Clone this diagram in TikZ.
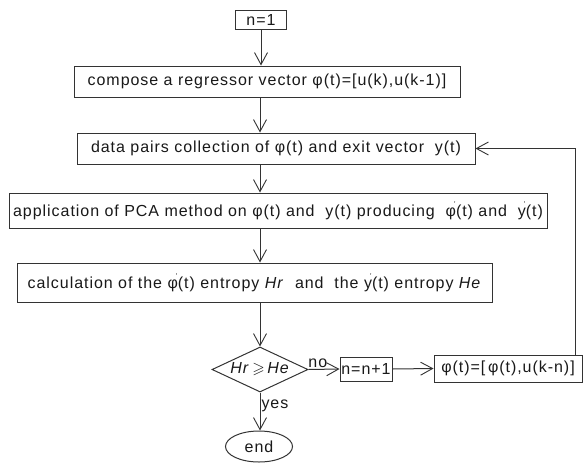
\documentclass[tikz,border=0pt]{standalone}
\usepackage{fontspec}
\usepackage{amssymb}
\setmainfont{Liberation Sans}[LetterSpace=6]
\usetikzlibrary{arrows.meta,shapes.geometric}
\newcommand{\ph}{φ}
\newcommand{\pr}[1]{#1\rlap{\raisebox{0.6em}{\kern-0.12em\scriptsize ′}}}
\begin{document}
\begin{tikzpicture}[x=1pt,y=-1pt,
  every node/.style={font=\fontsize{16}{19}\selectfont, text=black!90},
  box/.style={draw=black!80, line width=1pt, inner sep=0pt, rectangle},
  arr/.style={draw=black!80, line width=1pt, -{Straight Barb[length=12pt,width=13pt,line width=0.9pt]}},
  lbl/.style={inner sep=1pt}
]
\fill[white] (0,0) rectangle (585,463);
\useasboundingbox (0,0) rectangle (585,463);

\node[box, minimum width=51pt, minimum height=19pt] (n1) at (261,20) {n=1};
\node[box, minimum width=386pt, minimum height=31pt] (c) at (267,81.5) {compose a regressor vector \ph(t)=[u(k),u(k-1)]};
\node[box, minimum width=398pt, minimum height=31pt] (d) at (276,148.5) {data pairs collection of \ph(t) and exit vector\ \ y(t)};
\node[box, minimum width=538pt, minimum height=35pt] (a) at (278,210.5) {application of PCA method on \ph(t) and\ \ y(t) producing\ \ \pr{\ph}(t) and\ \ \pr{y}(t)};
\node[box, minimum width=475pt, minimum height=39pt] (e) at (254.5,282.5) {calculation of the \pr{\ph}(t) entropy \textit{Hr}\ \ and\ \ the \pr{y}(t) entropy \textit{He}};
\node[diamond, draw=black!80, line width=1pt, inner sep=0pt, minimum width=96pt, minimum height=45pt, shape aspect=2.1] (q) at (260,369.5) {\textit{Hr}\,$\geqslant$\,\textit{He}};
\node[box, minimum width=52pt, minimum height=24pt] (n2) at (366,369) {n=n+1};
\node[box, minimum width=148pt, minimum height=27pt] (p) at (508,368.5) {\ph(t)=[\,\ph(t),u(k-n)]};
\node[ellipse, draw=black!80, line width=1pt, inner sep=0pt, minimum width=67pt, minimum height=31pt] (z) at (259,446.5) {end};

\draw[arr] (n1.south) -- (n1.south |- c.north);
\draw[arr] (260,97) coordinate (c1) -- (c1 |- d.north);
\draw[arr] (260,164) coordinate (d1) -- (d1 |- a.north);
\draw[arr] (260,228) coordinate (a1) -- (a1 |- e.north);
\draw[arr] (260,302) coordinate (e1) -- (q.north);
\draw[arr] (q.east) -- (n2.west) node[lbl, pos=0.3, above] {no};
\draw[arr] (n2.east) -- (p.west);
\draw[arr] (q.south) -- (q.south |- z.north) node[lbl, pos=0.35, right] {yes};
\draw[arr] ([xshift=-7pt]p.north east) |- (d.east);
\end{tikzpicture}
\end{document}
